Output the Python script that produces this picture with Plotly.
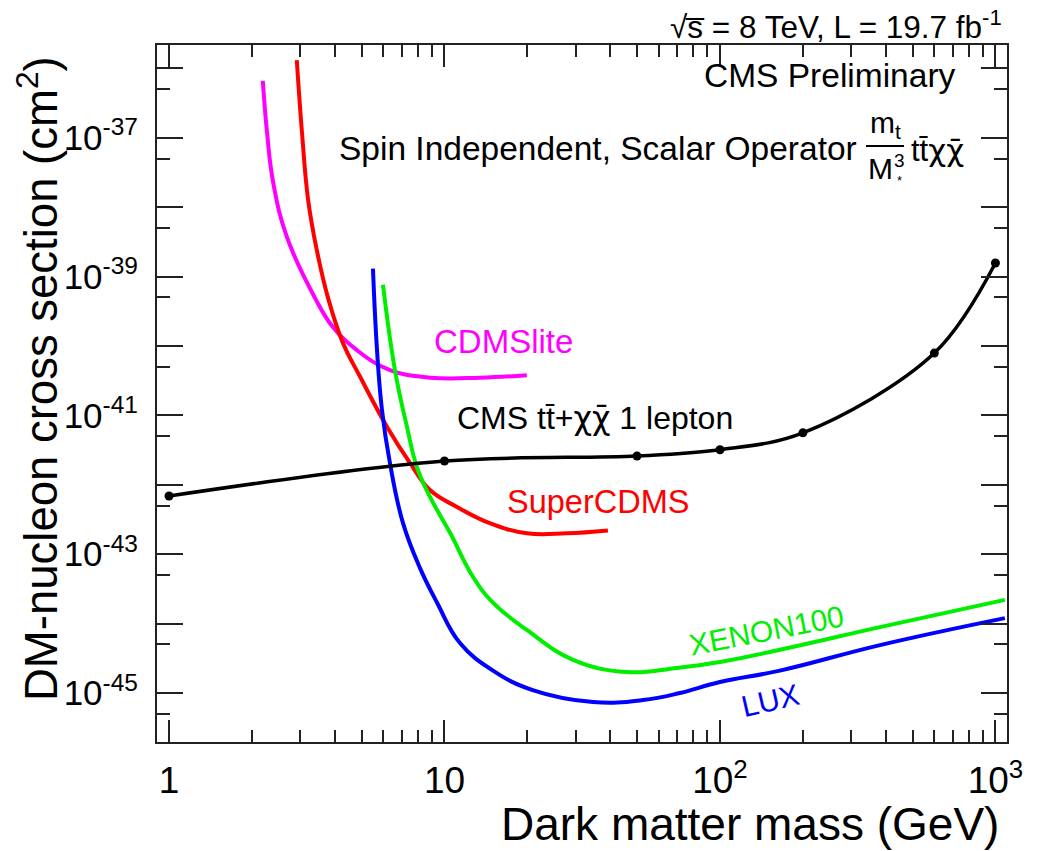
import plotly.graph_objects as go

# ---------------- data ----------------
cms_mass = [1, 10, 50, 100, 200, 600, 1000]
cms_xsec = [6.9e-43, 2.2e-42, 2.6e-42, 3.2e-42, 5.6e-42, 7.9e-41, 1.57e-39]

cdmslite_mass = [2.19, 2.27, 2.39, 2.68, 3.39, 3.94, 4.81, 6.34, 8.86, 13.5, 19.9]
cdmslite_xsec = [6.6e-37, 1.17e-37, 2.24e-38, 3.7e-39, 4.9e-40, 1.86e-40, 8.7e-41, 4.5e-41, 3.5e-41, 3.5e-41, 3.8e-41]

supercdms_mass = [2.91, 3.04, 3.20, 3.44, 3.78, 4.28, 4.94, 6.19, 7.50, 8.86, 11.1, 14.6, 19.9, 27.8, 39.2]
supercdms_xsec = [1.32e-36, 1.17e-37, 1.26e-38, 2.4e-39, 4.9e-40, 1.1e-40, 3.6e-41, 6.8e-42, 2.05e-42, 8.4e-43, 4.8e-43, 2.8e-43, 2.0e-43, 2.0e-43, 2.2e-43]

lux_mass = [5.50, 5.69, 5.93, 6.34, 7.07, 8.15, 9.40, 11.4, 15.0, 20.9, 34.6, 52.5, 71.6, 100, 165, 381, 1082]
lux_xsec = [1.3e-39, 8.7e-41, 1.2e-41, 2.05e-42, 2.8e-43, 6.3e-44, 2.0e-44, 5.2e-45, 2.1e-45, 1.1e-45, 7.4e-46, 7.9e-46, 1.0e-45, 1.44e-45, 2.1e-45, 4.9e-45, 1.2e-44]

xenon_mass = [5.98, 6.61, 7.31, 7.94, 8.86, 10.5, 12.7, 15.0, 19.9, 29.3, 45.9, 69.8, 100, 165, 381, 1082]
xenon_xsec = [7.6e-40, 4.5e-41, 6.8e-42, 1.8e-42, 6.7e-43, 2.0e-43, 4.7e-44, 2.0e-44, 8.1e-45, 3.0e-45, 2.0e-45, 2.3e-45, 2.8e-45, 4.2e-45, 8.9e-45, 2.2e-44]

x_tick_vals = [1, 10, 100, 1000]
x_tick_text = ["1", "10", "10<sup>2</sup>", "10<sup>3</sup>"]
y_exponents = [-36, -37, -38, -39, -40, -41, -42, -43, -44, -45]

# ---------------- layout helpers ----------------
W, H = 1038, 851
L, R, T, B = 157, 1007, 45, 742
FONT = "Liberation Sans, Arial, sans-serif"


def px(x, y):
    return (x - L) / (R - L), (B - y) / (B - T)


fig = go.Figure()

line_w = 4
sm = 1.2
fig.add_trace(go.Scatter(x=cdmslite_mass, y=cdmslite_xsec, mode="lines",
                         line=dict(color="#ff00ff", width=line_w, shape="spline", smoothing=sm)))
fig.add_trace(go.Scatter(x=supercdms_mass, y=supercdms_xsec, mode="lines",
                         line=dict(color="#ff0000", width=line_w, shape="spline", smoothing=sm)))
fig.add_trace(go.Scatter(x=xenon_mass, y=xenon_xsec, mode="lines",
                         line=dict(color="#00ee00", width=line_w, shape="spline", smoothing=sm)))
fig.add_trace(go.Scatter(x=lux_mass, y=lux_xsec, mode="lines",
                         line=dict(color="#0000ff", width=line_w, shape="spline", smoothing=sm)))
fig.add_trace(go.Scatter(x=cms_mass, y=cms_xsec, mode="lines+markers",
                         line=dict(color="black", width=3.5, shape="spline", smoothing=1),
                         marker=dict(color="black", size=9)))

# ticks
y_major = [10.0 ** e for e in y_exponents]
y_text = [("10<sup>%d</sup>" % e) if e % 2 else "" for e in y_exponents]
y_minor = [5 * 10.0 ** (e - 1) for e in y_exponents]
x_minor = [m * 10 ** d for d in range(0, 3) for m in range(2, 10)]

axis_common = dict(
    type="log", showgrid=False, zeroline=False, showline=True, linewidth=2,
    linecolor="#222", mirror="allticks", ticks="inside", tickwidth=2,
    tickcolor="#222",
)

fig.update_xaxes(range=[-0.0436, 3.042], tickmode="array", tickvals=x_tick_vals,
                 ticktext=x_tick_text, ticklen=22, ticklabelstandoff=5,
                 tickfont=dict(family=FONT, size=37, color="black"),
                 minor=dict(tickmode="array", tickvals=x_minor, ticks="inside",
                            ticklen=12, tickwidth=2, tickcolor="#222"),
                 **axis_common)
fig.update_yaxes(range=[-45.706, -35.663], tickmode="array", tickvals=y_major,
                 ticktext=y_text, ticklen=26, ticklabelstandoff=10,
                 tickfont=dict(family=FONT, size=35, color="black"),
                 minor=dict(tickmode="array", tickvals=y_minor, ticks="inside",
                            ticklen=13, tickwidth=2, tickcolor="#222"),
                 **axis_common)

annotations = []


def ann(text, x, y, size, color="black", xanchor="center", yanchor="middle", angle=0):
    ax, ay = px(x, y)
    annotations.append(dict(text=text, x=ax, y=ay, xref="paper", yref="paper",
                            xanchor=xanchor, yanchor=yanchor, showarrow=False,
                            textangle=angle,
                            font=dict(family=FONT, size=size, color=color)))


TTBAR = "tt\u0304"
CHICHI = "<span style='font-family:DejaVu Sans'>\u03c7\u03c7\u0304</span>"

# axis titles
ann("Dark matter mass (GeV)", 1001, 824, 46, xanchor="right")
ann("DM-nucleon cross section (cm<sup>2</sup>)", 38, 379, 45.5, angle=-90)

# header texts
ann("\u221as\u0305 = 8 TeV, L = 19.7 fb<sup>-1</sup>", 1004, 25, 31.5, xanchor="right")
ann("CMS Preliminary", 958, 76, 33.5, xanchor="right")
ann("Spin Independent, Scalar Operator", 337, 148, 33.5, xanchor="left")
ann("m<sub>t</sub>", 885, 124, 30)
ann("M", 880, 168, 30)
ann("3", 899, 161, 19)
ann("*", 899, 180, 13)
ann(TTBAR + CHICHI, 909, 150, 31, xanchor="left")

# curve labels
ann("CDMSlite", 503, 341, 33, color="#ff00ff")
ann("CMS " + TTBAR + "+" + CHICHI + " 1 lepton", 595, 418, 32)
ann("SuperCDMS", 598, 502, 32.5, color="#ff0000")
ann("XENON100", 766, 630, 30, color="#00ee00", angle=-11)
ann("LUX", 770, 700, 30, color="#0000ff", angle=-13)

fx0, fy0 = px(866, 146)
fx1, _ = px(904, 146)
fig.update_layout(
    width=W, height=H, autosize=False,
    margin=dict(l=L, r=W - R, t=T, b=H - B, pad=0),
    paper_bgcolor="white", plot_bgcolor="white",
    showlegend=False,
    annotations=annotations,
    shapes=[dict(type="line", xref="paper", yref="paper", x0=fx0, x1=fx1, y0=fy0, y1=fy0,
                 line=dict(color="black", width=2))],
)

fig.write_html("out.html")
